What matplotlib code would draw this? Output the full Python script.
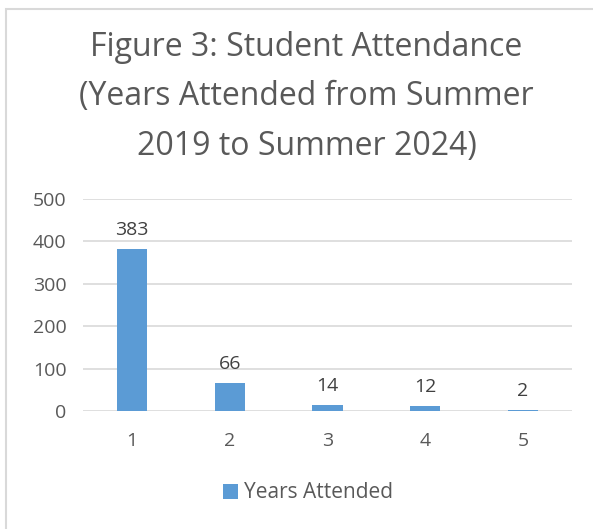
import matplotlib
matplotlib.use("Agg")
import matplotlib.pyplot as plt
from matplotlib.patches import Rectangle

categories = ["1", "2", "3", "4", "5"]
values = [383, 66, 14, 12, 2]
yticks = [0, 100, 200, 300, 400, 500]
title_lines = ["Figure 3: Student Attendance", "(Years Attended from Summer", "2019 to Summer 2024)"]
series_name = "Years Attended"

W, H = 593, 529
plt.rcParams['font.family'] = ['Open Sans', 'DejaVu Sans']
fig = plt.figure(figsize=(W/100, H/100), dpi=100)
txt = "#595959"
bar_c = "#5b9bd5"
fs = 14

# chart border
fig.patches.append(Rectangle((6/W, -0.1), 1.2, 1 - 9/H + 0.1, transform=fig.transFigure,
                             fill=False, edgecolor="#d9d9d9", linewidth=1.5))

ax = fig.add_axes([83/W, 1-411/H, (572-83)/W, (411-199)/H])
x = list(range(len(categories)))
bars = ax.bar(x, values, width=0.31, color=bar_c, zorder=3, label=series_name)
ax.set_xlim(-0.5, len(categories)-0.5)
ax.set_ylim(0, 500)
ax.set_yticks(yticks)
ax.set_xticks(x)
ax.set_xticklabels(categories)
ax.yaxis.grid(True, color="#d9d9d9", linewidth=1.2, zorder=0)
for s in ax.spines.values():
    s.set_visible(False)
ax.tick_params(length=0, labelsize=fs, colors=txt)
ax.tick_params(axis='y', pad=12)
ax.tick_params(axis='x', pad=15)
for b, v in zip(bars, values):
    ax.annotate(str(v), (b.get_x()+b.get_width()/2, v), xytext=(0, 7), textcoords="offset points",
                ha="center", va="bottom", fontsize=fs, color="#404040")

for i, (line, yy) in enumerate(zip(title_lines, [47, 97, 146])):
    fig.text(0.5 + 10/W, 1-yy/H, line, ha="center", va="center", fontsize=23, color=txt)

leg = fig.legend(handles=[bars], labels=[series_name], loc="center", bbox_to_anchor=(308/W, 1-493/H),
                 frameon=False, fontsize=15, handlelength=0.7, handleheight=0.7, handletextpad=0.3)
for t in leg.get_texts():
    t.set_color(txt)

fig.savefig("out.png", dpi=100, facecolor="white")
